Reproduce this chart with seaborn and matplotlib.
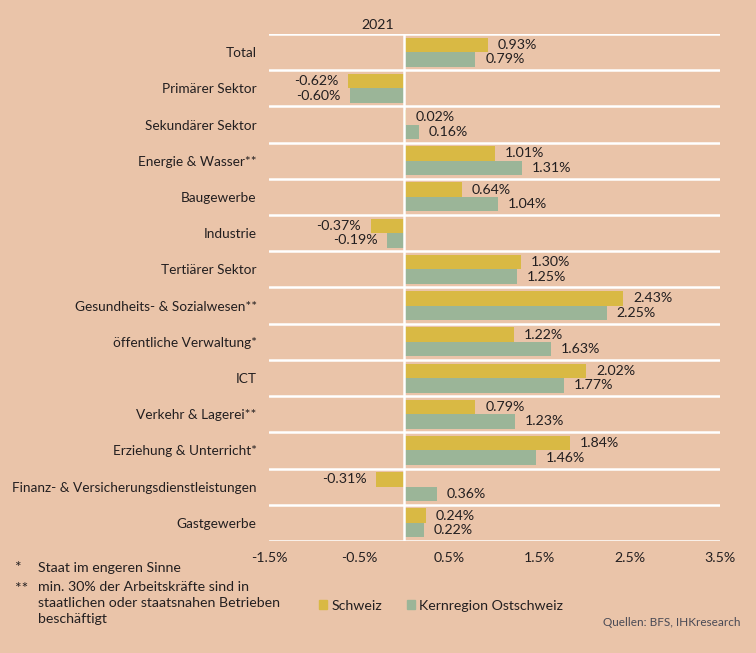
import pandas as pd
import matplotlib.pyplot as plt
import seaborn as sns

sns.set_theme(style='white')
plt.rcParams['font.family'] = ['Lato', 'DejaVu Sans']

categories = ['Total', 'Primärer Sektor', 'Sekundärer Sektor', 'Energie & Wasser**',
              'Baugewerbe', 'Industrie', 'Tertiärer Sektor',
              'Gesundheits- & Sozialwesen**', 'öffentliche Verwaltung*', 'ICT',
              'Verkehr & Lagerei**', 'Erziehung & Unterricht*',
              'Finanz- & Versicherungsdienstleistungen', 'Gastgewerbe']
schweiz = [0.93, -0.62, 0.02, 1.01, 0.64, -0.37, 1.30, 2.43, 1.22, 2.02, 0.79, 1.84, -0.31, 0.24]
ostschweiz = [0.79, -0.60, 0.16, 1.31, 1.04, -0.19, 1.25, 2.25, 1.63, 1.77, 1.23, 1.46, 0.36, 0.22]
series = ['Schweiz', 'Kernregion Ostschweiz']
xticks = [-1.5, -0.5, 0.5, 1.5, 2.5, 3.5]

bg = '#EAC4A9'
colors = ['#D9B944', '#9BB598']
txt = '#231F20'
fs = 10.2

df = pd.DataFrame({
    'Branche': categories * 2,
    'Wert': schweiz + ostschweiz,
    'Region': [series[0]] * len(categories) + [series[1]] * len(categories),
})

fig = plt.figure(figsize=(7.56, 6.53), dpi=100, facecolor=bg)
ax = fig.add_axes([0.356, 0.1715, 0.596, 0.7765])
ax.set_facecolor(bg)

sns.barplot(data=df, x='Wert', y='Branche', hue='Region', palette=colors,
            orient='h', width=0.8, saturation=1, linewidth=0, ax=ax, legend=False)

for cont in ax.containers:
    ax.bar_label(cont, fmt=lambda v: f'{v:.2f}%', padding=7, fontsize=fs, color=txt)

ax.set_xlim(-1.5, 3.5)
ax.set_ylim(len(categories) - 0.5, -0.5)
ax.set_xticks(xticks)
ax.set_xticklabels([f'{t:.1f}%' for t in xticks], fontsize=fs, color=txt)
ax.tick_params(axis='x', length=0, pad=8)
ax.tick_params(axis='y', length=0, pad=9, labelsize=fs * 0.96, labelcolor=txt)
ax.set_xlabel('')
ax.set_ylabel('')
for s in ax.spines.values():
    s.set_visible(False)

# weisse Trennlinien und Nulllinie
for k in range(len(categories) + 1):
    ax.axhline(k - 0.5, color='white', lw=1.8, zorder=0.5)
ax.axvline(0, color='white', lw=1.8, zorder=3)

fig.text(0.5, 0.962, '2021', ha='center', va='center', fontsize=fs, color=txt)

# Fussnoten
fig.text(0.02, 0.130, '*', fontsize=fs + 1, color=txt, va='center')
fig.text(0.05, 0.130, 'Staat im engeren Sinne', fontsize=fs, color=txt, va='center')
fig.text(0.02, 0.098, '**', fontsize=fs + 1, color=txt, va='center')
fig.text(0.05, 0.110, 'min. 30% der Arbeitskräfte sind in\nstaatlichen oder staatsnahen Betrieben\nbeschäftigt',
         fontsize=fs, color=txt, va='top', linespacing=1.4)

handles = [plt.Rectangle((0, 0), 1, 1, color=c) for c in colors]
fig.legend(handles, series, loc='center left', bbox_to_anchor=(0.405, 0.072), ncol=2,
           frameon=False, handlelength=0.6, handleheight=0.6, handletextpad=0.3,
           columnspacing=1.7, fontsize=fs, labelcolor=txt)

fig.text(0.979, 0.047, 'Quellen: BFS, IHKresearch', ha='right', va='center',
         fontsize=8.5, color='#4A4A55')

plt.savefig('out.png', dpi=100, facecolor=bg)
